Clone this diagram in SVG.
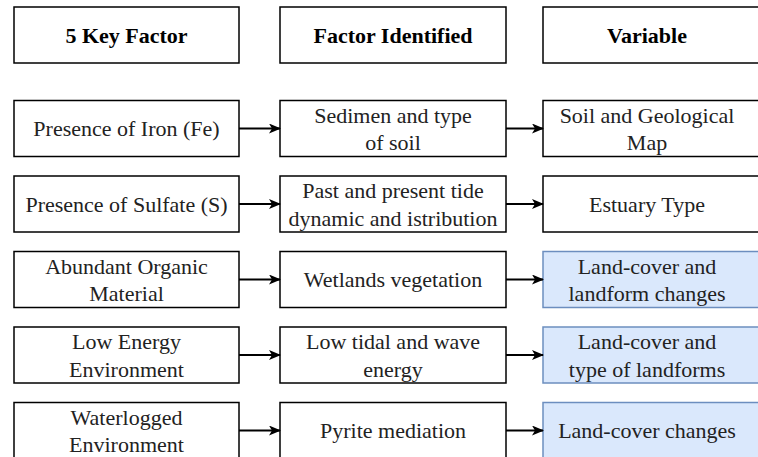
<svg xmlns="http://www.w3.org/2000/svg" width="758" height="457" viewBox="0 0 758 457">
<defs>
<marker id="ah" markerWidth="12" markerHeight="10" refX="11" refY="5" orient="auto" markerUnits="userSpaceOnUse">
<path d="M0,0 L12,5 L0,10 L3,5 Z" fill="#000"/>
</marker>
</defs>
<rect width="758" height="457" fill="#fff"/>
<g id="h1"><rect x="14" y="7" width="225" height="56" fill="#fff" stroke="#000" stroke-width="1.5"/><text font-family="Times New Roman, Liberation Serif, serif" font-size="22" text-anchor="middle" font-weight="bold" fill="#000" x="126.5" y="42.7">5 Key Factor</text></g>
<g id="h2"><rect x="280" y="7" width="226" height="56" fill="#fff" stroke="#000" stroke-width="1.5"/><text font-family="Times New Roman, Liberation Serif, serif" font-size="22" text-anchor="middle" font-weight="bold" fill="#000" x="393" y="42.7">Factor Identified</text></g>
<g id="h3"><rect x="543" y="7" width="227" height="56" fill="#fff" stroke="#000" stroke-width="1.5"/><text font-family="Times New Roman, Liberation Serif, serif" font-size="22" text-anchor="middle" font-weight="bold" fill="#000" x="647" y="42.7">Variable</text></g>

<g id="r1a"><rect x="14" y="100.5" width="225" height="56" fill="#fff" stroke="#000" stroke-width="1.5"/><text font-family="Times New Roman, Liberation Serif, serif" font-size="22" text-anchor="middle" fill="#222" x="126.5" y="136">Presence of Iron (Fe)</text></g>
<g id="r1b"><rect x="280" y="100.5" width="226" height="56" fill="#fff" stroke="#000" stroke-width="1.5"/><text font-family="Times New Roman, Liberation Serif, serif" font-size="22" text-anchor="middle" fill="#222" x="393" y="122.5">Sedimen and type</text><text font-family="Times New Roman, Liberation Serif, serif" font-size="22" text-anchor="middle" fill="#222" x="393" y="150">of soil</text></g>
<g id="r1c"><rect x="543" y="100.5" width="227" height="56" fill="#fff" stroke="#000" stroke-width="1.5"/><text font-family="Times New Roman, Liberation Serif, serif" font-size="22" text-anchor="middle" fill="#222" x="647" y="122.5">Soil and Geological</text><text font-family="Times New Roman, Liberation Serif, serif" font-size="22" text-anchor="middle" fill="#222" x="647" y="150">Map</text></g>

<g id="r2a"><rect x="14" y="176" width="225" height="56" fill="#fff" stroke="#000" stroke-width="1.5"/><text font-family="Times New Roman, Liberation Serif, serif" font-size="22" text-anchor="middle" fill="#222" x="126.5" y="211.5">Presence of Sulfate (S)</text></g>
<g id="r2b"><rect x="280" y="176" width="226" height="56" fill="#fff" stroke="#000" stroke-width="1.5"/><text font-family="Times New Roman, Liberation Serif, serif" font-size="22" text-anchor="middle" fill="#222" x="393" y="198">Past and present tide</text><text font-family="Times New Roman, Liberation Serif, serif" font-size="22" text-anchor="middle" fill="#222" x="393" y="225.5">dynamic and istribution</text></g>
<g id="r2c"><rect x="543" y="176" width="227" height="56" fill="#fff" stroke="#000" stroke-width="1.5"/><text font-family="Times New Roman, Liberation Serif, serif" font-size="22" text-anchor="middle" fill="#222" x="647" y="211.5">Estuary Type</text></g>

<g id="r3a"><rect x="14" y="251.5" width="225" height="56" fill="#fff" stroke="#000" stroke-width="1.5"/><text font-family="Times New Roman, Liberation Serif, serif" font-size="22" text-anchor="middle" fill="#222" x="126.5" y="273.5">Abundant Organic</text><text font-family="Times New Roman, Liberation Serif, serif" font-size="22" text-anchor="middle" fill="#222" x="126.5" y="301">Material</text></g>
<g id="r3b"><rect x="280" y="251.5" width="226" height="56" fill="#fff" stroke="#000" stroke-width="1.5"/><text font-family="Times New Roman, Liberation Serif, serif" font-size="22" text-anchor="middle" fill="#222" x="393" y="287">Wetlands vegetation</text></g>
<g id="r3c"><rect x="543" y="251.5" width="227" height="56" fill="#dae8fc" stroke="#6c8ebf" stroke-width="1.5"/><text font-family="Times New Roman, Liberation Serif, serif" font-size="22" text-anchor="middle" fill="#222" x="647" y="273.5">Land-cover and</text><text font-family="Times New Roman, Liberation Serif, serif" font-size="22" text-anchor="middle" fill="#222" x="647" y="301">landform changes</text></g>

<g id="r4a"><rect x="14" y="327" width="225" height="56" fill="#fff" stroke="#000" stroke-width="1.5"/><text font-family="Times New Roman, Liberation Serif, serif" font-size="22" text-anchor="middle" fill="#222" x="126.5" y="349">Low Energy</text><text font-family="Times New Roman, Liberation Serif, serif" font-size="22" text-anchor="middle" fill="#222" x="126.5" y="376.5">Environment</text></g>
<g id="r4b"><rect x="280" y="327" width="226" height="56" fill="#fff" stroke="#000" stroke-width="1.5"/><text font-family="Times New Roman, Liberation Serif, serif" font-size="22" text-anchor="middle" fill="#222" x="393" y="349">Low tidal and wave</text><text font-family="Times New Roman, Liberation Serif, serif" font-size="22" text-anchor="middle" fill="#222" x="393" y="376.5">energy</text></g>
<g id="r4c"><rect x="543" y="327" width="227" height="56" fill="#dae8fc" stroke="#6c8ebf" stroke-width="1.5"/><text font-family="Times New Roman, Liberation Serif, serif" font-size="22" text-anchor="middle" fill="#222" x="647" y="349">Land-cover and</text><text font-family="Times New Roman, Liberation Serif, serif" font-size="22" text-anchor="middle" fill="#222" x="647" y="376.5">type of landforms</text></g>

<g id="r5a"><rect x="14" y="402.5" width="225" height="56" fill="#fff" stroke="#000" stroke-width="1.5"/><text font-family="Times New Roman, Liberation Serif, serif" font-size="22" text-anchor="middle" fill="#222" x="126.5" y="424.5">Waterlogged</text><text font-family="Times New Roman, Liberation Serif, serif" font-size="22" text-anchor="middle" fill="#222" x="126.5" y="452">Environment</text></g>
<g id="r5b"><rect x="280" y="402.5" width="226" height="56" fill="#fff" stroke="#000" stroke-width="1.5"/><text font-family="Times New Roman, Liberation Serif, serif" font-size="22" text-anchor="middle" fill="#222" x="393" y="438">Pyrite mediation</text></g>
<g id="r5c"><rect x="543" y="402.5" width="227" height="56" fill="#dae8fc" stroke="#6c8ebf" stroke-width="1.5"/><text font-family="Times New Roman, Liberation Serif, serif" font-size="22" text-anchor="middle" fill="#222" x="647" y="438">Land-cover changes</text></g>

<g id="connectors" stroke="#000" stroke-width="2" fill="none" marker-end="url(#ah)">
<line x1="239" y1="128.5" x2="280" y2="128.5"/>
<line x1="506" y1="128.5" x2="543" y2="128.5"/>
<line x1="239" y1="204" x2="280" y2="204"/>
<line x1="506" y1="204" x2="543" y2="204"/>
<line x1="239" y1="279.5" x2="280" y2="279.5"/>
<line x1="506" y1="279.5" x2="543" y2="279.5"/>
<line x1="239" y1="355" x2="280" y2="355"/>
<line x1="506" y1="355" x2="543" y2="355"/>
<line x1="239" y1="430.5" x2="280" y2="430.5"/>
<line x1="506" y1="430.5" x2="543" y2="430.5"/>
</g>
</svg>
